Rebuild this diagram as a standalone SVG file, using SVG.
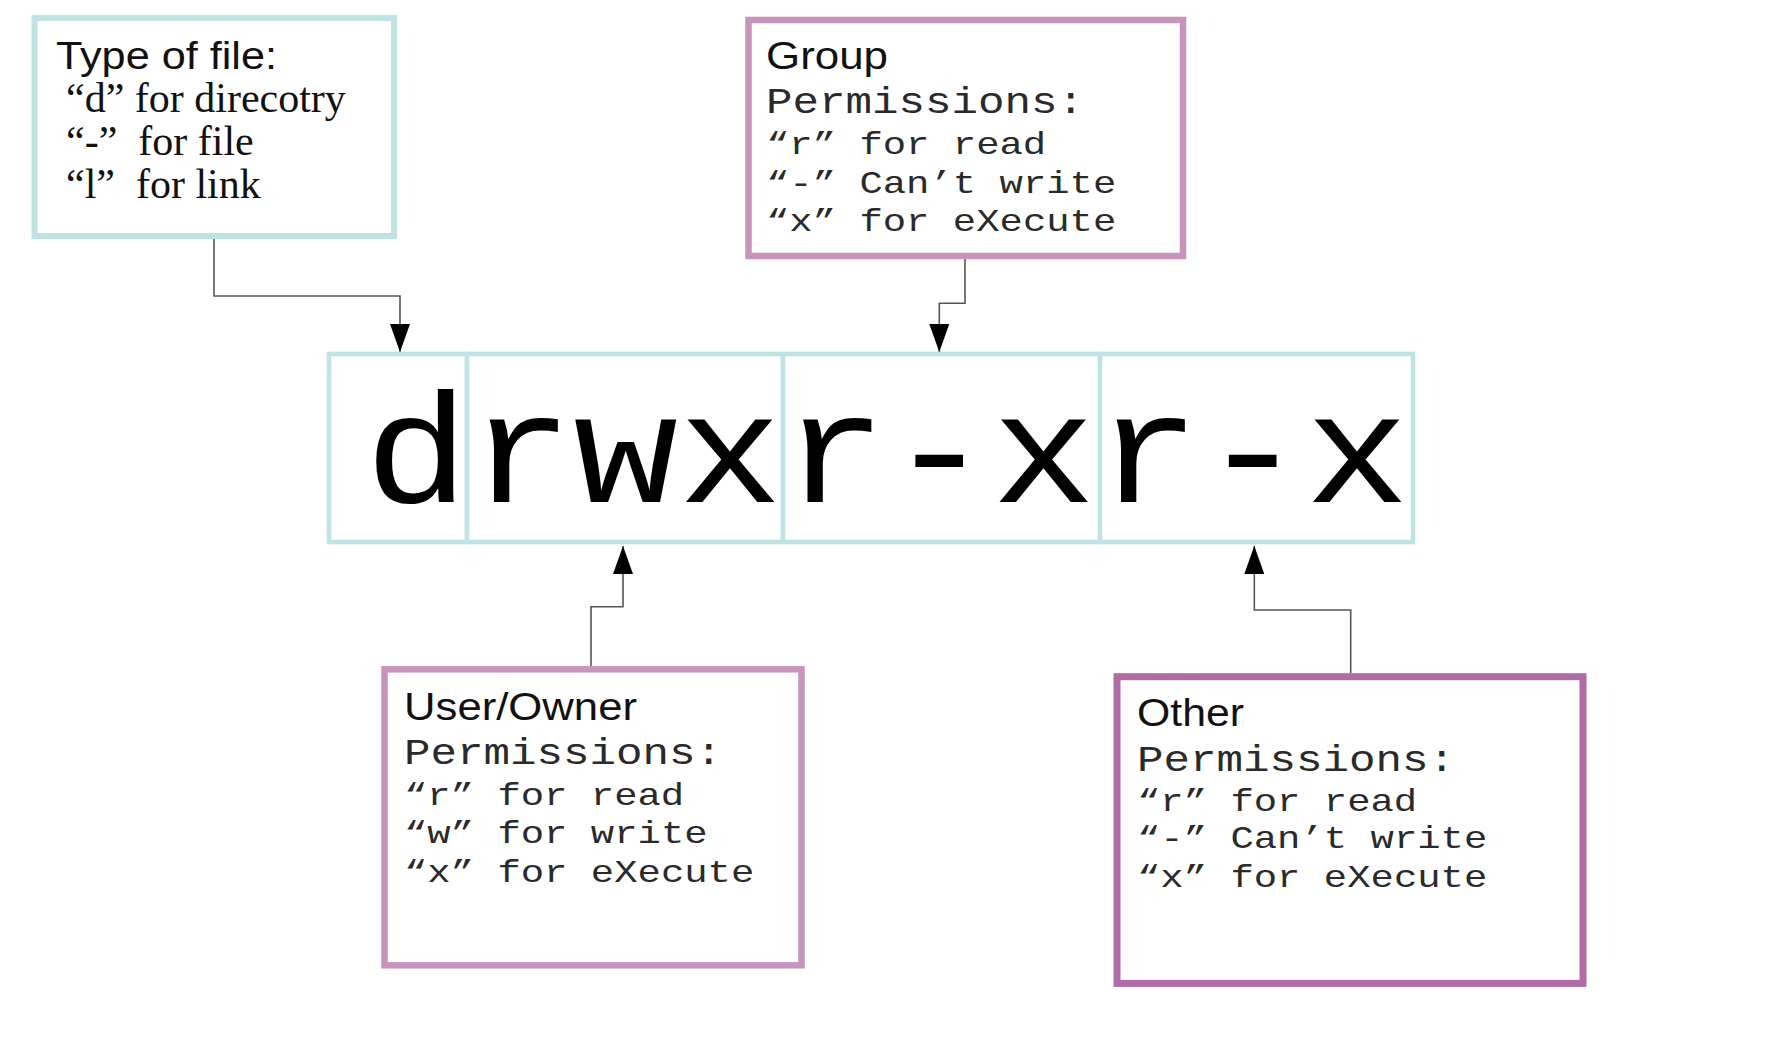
<svg xmlns="http://www.w3.org/2000/svg" width="1778" height="1037" viewBox="0 0 1778 1037">
<style>
  .cyan { fill: #ffffff; stroke: #bfe2e2; stroke-width: 6; }
  .cell { fill: #ffffff; stroke: #bfe2e2; stroke-width: 4.5; }
  .mauve { fill: #ffffff; stroke: #c794bc; stroke-width: 6.5; }
  .plum { fill: #ffffff; stroke: #b06ca6; stroke-width: 7; }
  .conn { fill: none; stroke: #555555; stroke-width: 1.6; }
  .sans { font-family: "Liberation Sans", Arial, sans-serif; font-size: 38px; fill: #111111; }
  .serif { font-family: "Liberation Serif", "Times New Roman", serif; font-size: 42px; fill: #111111; white-space: pre; }
  .monoH { font-family: "Liberation Mono", "Courier New", monospace; font-size: 36px; fill: #2a2a2a; }
  .mono { font-family: "Liberation Mono", "Courier New", monospace; font-size: 32px; fill: #2a2a2a; }
  .big { font-family: "Liberation Mono", "Courier New", monospace; font-size: 156px; fill: #000000; }
</style>
<defs>
  <marker id="arrow" viewBox="0 0 28 20" refX="28" refY="10" markerWidth="28" markerHeight="20" markerUnits="userSpaceOnUse" orient="auto">
    <path d="M0,0 L28,10 L0,20 z" fill="#000000"/>
  </marker>
</defs>
<rect width="1778" height="1037" fill="#ffffff"/>

<g id="connectors">
  <path class="conn" d="M214 239 V296 H400 V352" marker-end="url(#arrow)"/>
  <path class="conn" d="M965 259 V303.3 H939.3 V352" marker-end="url(#arrow)"/>
  <path class="conn" d="M591 666 V606.7 H623 V546" marker-end="url(#arrow)"/>
  <path class="conn" d="M1350.7 673 V610 H1254.3 V546" marker-end="url(#arrow)"/>
</g>

<g id="type-of-file">
  <rect class="cyan" x="34.5" y="18" width="359.5" height="218"/>
  <text class="sans" x="56" y="69.3" textLength="221" lengthAdjust="spacingAndGlyphs">Type of file:</text>
  <text class="serif" x="66" y="111.7" xml:space="preserve">“d” for direcotry</text>
  <text class="serif" x="66" y="155" xml:space="preserve">“-”  for file</text>
  <text class="serif" x="66" y="198.3" xml:space="preserve">“l”  for link</text>
</g>

<g id="group">
  <rect class="mauve" x="748.5" y="20" width="434.5" height="236"/>
  <text class="sans" x="766" y="69" textLength="122" lengthAdjust="spacingAndGlyphs">Group</text>
  <text class="monoH" x="766" y="113.3" textLength="318" lengthAdjust="spacingAndGlyphs">Permissions:</text>
  <text class="mono" x="766" y="154" textLength="280.2" lengthAdjust="spacingAndGlyphs">“r” for read</text>
  <text class="mono" x="766" y="192.7" textLength="350.3" lengthAdjust="spacingAndGlyphs">“-” Can’t write</text>
  <text class="mono" x="766" y="231" textLength="350.3" lengthAdjust="spacingAndGlyphs">“x” for eXecute</text>
</g>

<g id="permission-string">
  <rect class="cell" x="329" y="354" width="138" height="188"/>
  <rect class="cell" x="467" y="354" width="316" height="188"/>
  <rect class="cell" x="783" y="354" width="317" height="188"/>
  <rect class="cell" x="1100" y="354" width="313" height="188"/>
  <text class="big" x="364.5" y="502" textLength="1045" lengthAdjust="spacingAndGlyphs">drwxr-xr-x</text>
</g>

<g id="user-owner">
  <rect class="mauve" x="384.5" y="669.3" width="417" height="296"/>
  <text class="sans" x="404" y="720" textLength="233" lengthAdjust="spacingAndGlyphs">User/Owner</text>
  <text class="monoH" x="404" y="764" textLength="318" lengthAdjust="spacingAndGlyphs">Permissions:</text>
  <text class="mono" x="404" y="805" textLength="280.2" lengthAdjust="spacingAndGlyphs">“r” for read</text>
  <text class="mono" x="404" y="842.7" textLength="303.6" lengthAdjust="spacingAndGlyphs">“w” for write</text>
  <text class="mono" x="404" y="881.7" textLength="350.3" lengthAdjust="spacingAndGlyphs">“x” for eXecute</text>
</g>

<g id="other">
  <rect class="plum" x="1117" y="676.7" width="466" height="306.7"/>
  <text class="sans" x="1137" y="725.7" textLength="107" lengthAdjust="spacingAndGlyphs">Other</text>
  <text class="monoH" x="1137" y="770.7" textLength="318" lengthAdjust="spacingAndGlyphs">Permissions:</text>
  <text class="mono" x="1137" y="810.7" textLength="280.2" lengthAdjust="spacingAndGlyphs">“r” for read</text>
  <text class="mono" x="1137" y="848.3" textLength="350.3" lengthAdjust="spacingAndGlyphs">“-” Can’t write</text>
  <text class="mono" x="1137" y="887.3" textLength="350.3" lengthAdjust="spacingAndGlyphs">“x” for eXecute</text>
</g>
</svg>
